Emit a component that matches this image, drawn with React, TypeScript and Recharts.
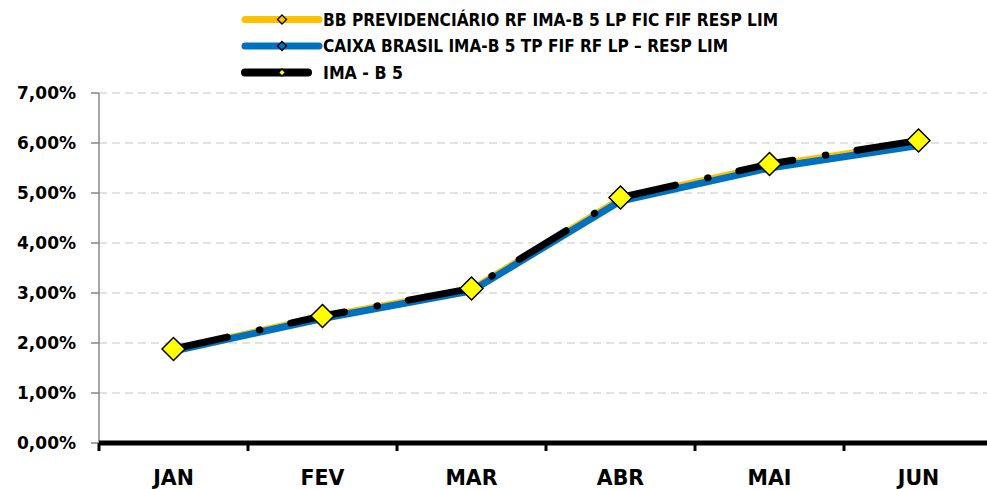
import React from 'react';
import { LineChart, Line, XAxis, YAxis, CartesianGrid } from 'recharts';

const months = ['JAN', 'FEV', 'MAR', 'ABR', 'MAI', 'JUN'];
const bbValues = [1.86, 2.52, 3.07, 4.88, 5.55, 6.0];
const caixaValues = [1.84, 2.49, 3.04, 4.84, 5.5, 5.95];
const imaValues = [1.88, 2.54, 3.09, 4.91, 5.58, 6.05];
const yTicks = [0, 1, 2, 3, 4, 5, 6, 7];
const bandTicks = [0, 1, 2, 3, 4, 5, 6];
const labelTicks = [0.5, 1.5, 2.5, 3.5, 4.5, 5.5];

const seriesNames = {
  bb: 'BB PREVIDENCIÁRIO RF IMA-B 5 LP FIC FIF RESP LIM',
  caixa: 'CAIXA BRASIL IMA-B 5 TP FIF RF LP – RESP LIM',
  ima: 'IMA - B 5',
};

const COLORS = { bb: '#FFC000', caixa: '#0070C0', ima: '#000000', marker: '#FFFF00' };

const data = months.map((m, i) => ({
  x: i + 0.5,
  month: m,
  bb: bbValues[i],
  caixa: caixaValues[i],
  ima: imaValues[i],
}));

const FONT = '"DejaVu Sans", sans-serif';

const Diamond = (props: any) => {
  const { cx, cy, index } = props;
  if (cx == null || cy == null) return null;
  const r = 11.5;
  return (
    <path
      key={`d-${index}`}
      d={`M${cx},${cy - r}L${cx + r},${cy}L${cx},${cy + r}L${cx - r},${cy}Z`}
      fill={COLORS.marker}
      stroke="#000"
      strokeWidth={1.5}
      strokeDasharray="none"
    />
  );
};

const legendItems = [
  { key: 'bb', color: COLORS.bb, end: 319, w: 7, mfill: COLORS.bb, mr: 4.5, text: seriesNames.bb, len: 455 },
  { key: 'caixa', color: COLORS.caixa, end: 319, w: 7, mfill: COLORS.caixa, mr: 4.5, text: seriesNames.caixa, len: 405 },
  { key: 'ima', color: COLORS.ima, end: 308, w: 8, mfill: COLORS.marker, mr: 3.5, text: seriesNames.ima, len: 80 },
];

const LegendOverlay = () => (
  <svg width={987} height={90} style={{ position: 'absolute', left: 0, top: 0, pointerEvents: 'none' }}>
    {legendItems.map((it, i) => {
      const y = 19.5 + i * 26.5;
      const mx = 282;
      return (
        <g key={it.key}>
          <line x1={245} x2={it.end} y1={y} y2={y} stroke={it.color} strokeWidth={it.w} strokeLinecap="round" />
          <path
            d={`M${mx},${y - it.mr}L${mx + it.mr},${y}L${mx},${y + it.mr}L${mx - it.mr},${y}Z`}
            fill={it.mfill}
            stroke="#000"
            strokeWidth={1.3}
          />
          <text
            x={323}
            y={y + 6.2}
            fontFamily={FONT}
            fontWeight="bold"
            fontSize={17}
            fill="#000"
            textLength={it.len}
            lengthAdjust="spacingAndGlyphs"
          >
            {it.text}
          </text>
        </g>
      );
    })}
  </svg>
);

const fmtPct = (v: number) => v.toFixed(2).replace('.', ',') + '%';

export default function App() {
  return (
    <div style={{ position: 'absolute', left: 0, top: 0, width: 987, height: 489, overflow: 'hidden', background: '#fff' }}>
      <LineChart
        width={1000}
        height={489}
        data={data}
        margin={{ top: 93, right: 7, left: 9, bottom: 7 }}
      >
        <CartesianGrid vertical={false} stroke="#d9d9d9" strokeDasharray="8 5" strokeWidth={1.5} />
        <YAxis
          type="number"
          domain={[0, 7]}
          ticks={yTicks}
          interval={0}
          width={90}
          tickFormatter={fmtPct}
          axisLine={{ stroke: '#898989', strokeWidth: 1.5 }}
          tickLine={{ stroke: '#898989', strokeWidth: 1.5 }}
          tickSize={8}
          tickMargin={15}
          tick={{ fill: '#000', fontFamily: FONT, fontWeight: 'bold', fontSize: 17 }}
        />
        <XAxis
          xAxisId={0}
          type="number"
          dataKey="x"
          domain={[0, 6]}
          ticks={bandTicks}
          interval={0}
          height={8}
          tickFormatter={() => ''}
          axisLine={{ stroke: '#000', strokeWidth: 5 }}
          tickLine={{ stroke: '#000', strokeWidth: 3 }}
          tickSize={8}
        />
        <XAxis
          xAxisId="lbl"
          type="number"
          dataKey="x"
          domain={[0, 6]}
          ticks={labelTicks}
          interval={0}
          height={31}
          tickFormatter={(v: number) => months[Math.floor(v)]}
          axisLine={false}
          tickLine={false}
          tickSize={0}
          tickMargin={19}
          tick={{ fill: '#000', fontFamily: FONT, fontWeight: 'bold', fontSize: 20.5 }}
        />
        <Line
          xAxisId={0}
          type="linear"
          dataKey="bb"
          name={seriesNames.bb}
          stroke={COLORS.bb}
          strokeWidth={7}
          dot={false}
          activeDot={false}
          isAnimationActive={false}
        />
        <Line
          xAxisId={0}
          type="linear"
          dataKey="caixa"
          name={seriesNames.caixa}
          stroke={COLORS.caixa}
          strokeWidth={7}
          dot={false}
          activeDot={false}
          isAnimationActive={false}
        />
        <Line
          xAxisId={0}
          type="linear"
          dataKey="ima"
          name={seriesNames.ima}
          stroke={COLORS.ima}
          strokeWidth={7}
          strokeLinecap="round"
          strokeDasharray="55 33 0.5 31.5"
          dot={Diamond}
          activeDot={false}
          isAnimationActive={false}
        />
      </LineChart>
      <LegendOverlay />
    </div>
  );
}
